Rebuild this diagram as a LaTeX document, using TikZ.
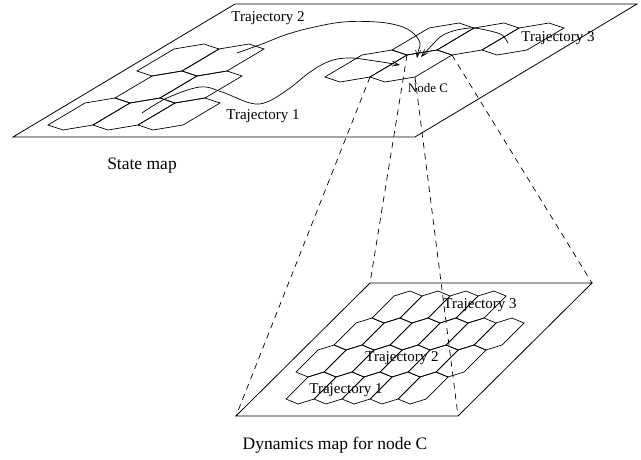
\documentclass[tikz,border=0pt]{standalone}
\usepackage{fontspec}
\setmainfont{Liberation Serif}
\usetikzlibrary{arrows.meta}
\newcommand\hexTop[2]{\draw[hexline] (#1,#2) -- ++(15,5) -- ++(30,-5) -- ++(37,-22) -- ++(-15,-5) -- ++(-30,5) -- cycle;}
\newcommand\hexLow[2]{\draw[hexline] (#1,#2) -- ++(12,5) -- ++(16,-5) -- ++(22,-22) -- ++(-12,-5) -- ++(-16,5) -- cycle;}
\begin{document}
\begin{tikzpicture}[x=1pt,y=-1pt,
  hexline/.style={line width=0.7pt},
  plane/.style={line width=0.8pt},
  traj/.style={line width=0.7pt,-{Straight Barb[length=7pt,width=5pt]}},
  proj/.style={line width=0.7pt,dash pattern=on 6pt off 5pt},
  lbl/.style={font=\fontsize{15}{15}\selectfont,inner sep=0pt},
  small/.style={font=\fontsize{13}{13}\selectfont,inner sep=0pt},
  caption/.style={font=\fontsize{17.5}{17.5}\selectfont,inner sep=0pt}]
\useasboundingbox (0,0) rectangle (641,459);
% top plane
\coordinate (TPbl) at (13,137);
\coordinate (TPbr) at (415,137);
\coordinate (TPtr) at (637,4);
\coordinate (TPtl) at (235,4);
\draw[plane] (TPbl) -- (TPbr) -- (TPtr) -- (TPtl) -- cycle;
% lower plane
\coordinate (LPbl) at (236,416);
\coordinate (LPbr) at (458,416);
\coordinate (LPtr) at (592,283);
\coordinate (LPtl) at (370,283);
\draw[plane] (LPbl) -- (LPbr) -- (LPtr) -- (LPtl) -- cycle;
% top-left cluster
\foreach \k in {0,1,2} {\hexTop{48+45*\k}{125}}
\foreach \k in {0,1} {\hexTop{115+45*\k}{98}}
\foreach \k in {0,1} {\hexTop{137+45*\k}{71}}
% top-right cluster
\foreach \k in {0,1} {\hexTop{325+45*\k}{77}}
\foreach \k in {0,1,2} {\hexTop{392+45*\k}{50}}
% node C corners
\coordinate (CL) at (370,77);
\coordinate (CBR) at (415,77);
\coordinate (CTL) at (407,55);
\coordinate (CTR) at (452,55);
% lower grid
\foreach \k in {0,...,4} {\hexLow{286+28*\k}{399}}
\foreach \k in {0,...,5} {\hexLow{296+28*\k}{372}}
\foreach \k in {0,...,5} {\hexLow{334+28*\k}{345}}
\foreach \k in {0,...,3} {\hexLow{372+28*\k}{318}}
% projection lines
\draw[proj] (CL) -- (LPbl);
\draw[proj] (CTL) -- (LPtl);
\draw[proj] (CBR) -- (LPbr);
\draw[proj] (CTR) -- (LPtr);
% trajectories
\draw[traj] plot[smooth,tension=0.6] coordinates {(237,53) (262,44) (285,35) (310,28) (343,22) (377,22) (400,26) (413,33) (420,43) (418,52) (417,58)};
\draw[traj] plot[smooth,tension=0.6] coordinates {(142,113) (167,98) (200,87) (222,92) (250,103) (267,102) (290,88) (310,72) (330,61) (350,58) (375,61) (400,65)};
\draw[traj] plot[smooth,tension=0.6] coordinates {(508,43) (502,35) (490,31) (473,28) (457,30) (443,35) (435,42) (421,57)};
% labels
\node[lbl] (t2) at (268,18) {Trajectory 2};
\node[lbl] (t1) at (263,116) {Trajectory 1};
\node[lbl] (t3) at (558,38) {Trajectory 3};
\node[small] (nc) at (428,88) {Node C};
\node[caption] (sm) at (142,166) {State map};
\node[lbl] (lt3) at (480,305) {Trajectory 3};
\node[lbl] (lt2) at (402,358) {Trajectory 2};
\node[lbl] (lt1) at (346,390) {Trajectory 1};
\node[caption] (dm) at (335,445) {Dynamics map for node C};
\end{tikzpicture}
\end{document}
